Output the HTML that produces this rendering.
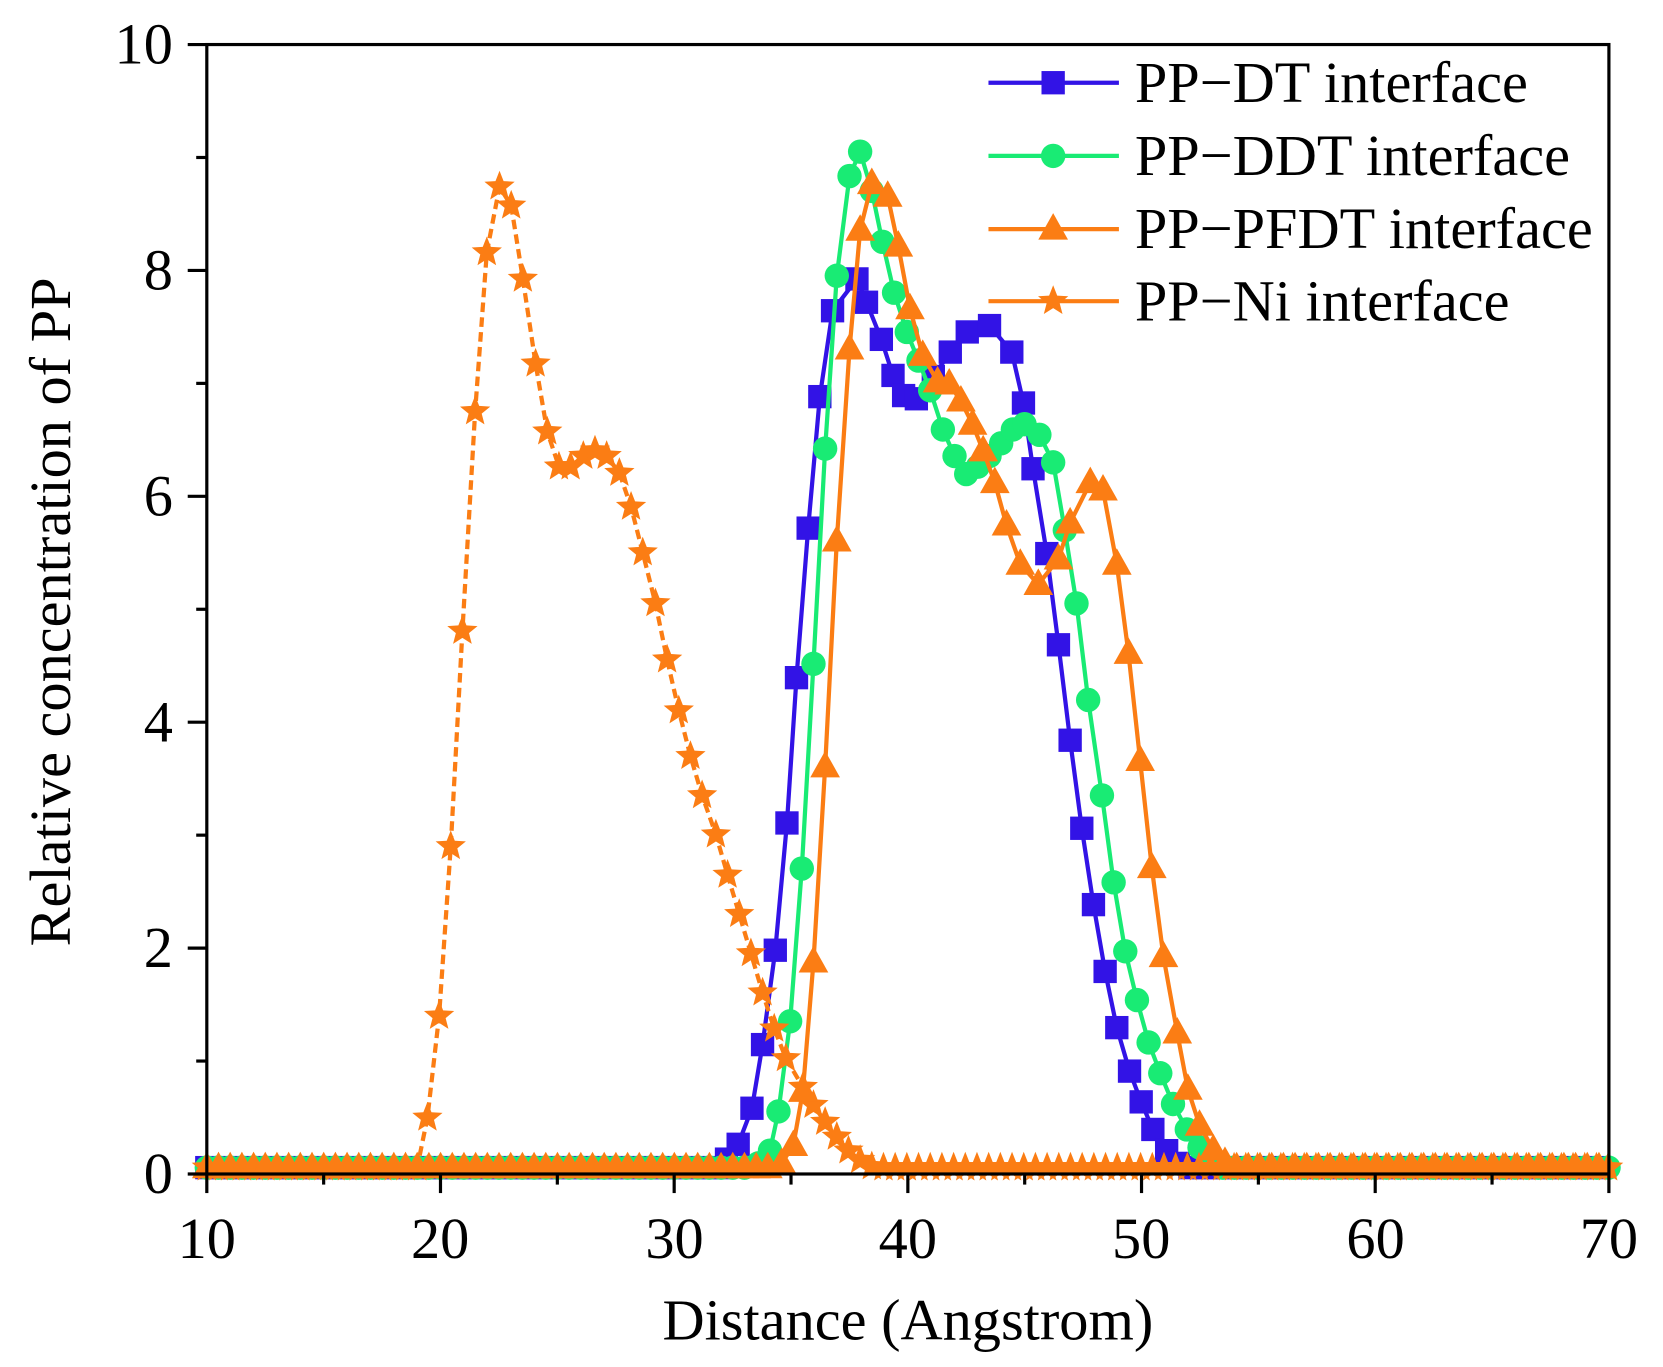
<!DOCTYPE html>
<html><head><meta charset="utf-8"><style>
html,body{margin:0;padding:0;background:#fff;}
svg{display:block;}
text{font-family:"Liberation Serif",serif;fill:#000;}
</style></head><body>
<svg id="s" width="1663" height="1367" viewBox="0 0 1568 1289" preserveAspectRatio="none" xmlns="http://www.w3.org/2000/svg">
<rect width="1568" height="1289" fill="#fff"/>
<g id="series"></g>
<rect x="195" y="42" width="1322" height="1065" fill="none" stroke="#000" stroke-width="3"/>
<g id="ticks" stroke="#000" stroke-width="3"></g>
<g font-size="55">
<text x="195" y="1186" text-anchor="middle">10</text>
<text x="415" y="1186" text-anchor="middle">20</text>
<text x="636" y="1186" text-anchor="middle">30</text>
<text x="856" y="1186" text-anchor="middle">40</text>
<text x="1076" y="1186" text-anchor="middle">50</text>
<text x="1297" y="1186" text-anchor="middle">60</text>
<text x="1517" y="1186" text-anchor="middle">70</text>
<text x="163" y="1125" text-anchor="end">0</text>
<text x="163" y="912" text-anchor="end">2</text>
<text x="163" y="699" text-anchor="end">4</text>
<text x="163" y="486" text-anchor="end">6</text>
<text x="163" y="273" text-anchor="end">8</text>
<text x="163" y="60" text-anchor="end">10</text>
</g>
<text x="856" y="1263" font-size="55" text-anchor="middle">Distance (Angstrom)</text>
<text transform="translate(66,577) rotate(-90)" font-size="55" text-anchor="middle">Relative concentration of PP</text>
<g id="legend"></g>
</svg>
<script>
const NS="http://www.w3.org/2000/svg";
function el(p,t,a){const e=document.createElementNS(NS,t);for(const k in a)e.setAttribute(k,a[k]);p.appendChild(e);return e;}
const S=document.getElementById('series'),T=document.getElementById('ticks'),L=document.getElementById('legend');
for(let v=10;v<=70;v+=5){const x=195+(v-10)*22.033;const maj=v%10==0;el(T,'line',{x1:x,y1:1107,x2:x,y2:maj?1125:1117});}
for(let v=0;v<=10;v++){const y=1107-v*106.5;const maj=v%2==0;el(T,'line',{x1:195,y1:y,x2:maj?177:185,y2:y});}
const base=1101;
const DT=[[685,1093],[696,1079],[709,1045],[719,985],[731,896],[742,776],[751,639],[762,498],[773,374],[785,293],[808,263],[817,285],[831,320],[842,354],[852,373],[864,376],[880,355],[896,332],[912,313],[933,307],[954,332],[965,380],[974,442],[987,522],[998,608],[1009,698],[1020,781],[1031,853],[1042,916],[1053,969],[1065,1010],[1076,1039],[1087,1065],[1100,1085],[1111,1097]];
const DDT=[[715,1097],[726,1085],[734,1048],[745,963],[756,819],[767,626],[778,423],[789,260],[801,166],[811,143],[822,180],[832,228],[843,276],[855,313],[866,340],[877,368],[889,405],[900,430],[911,447],[922,440],[933,430],[944,418],[955,405],[966,400],[980,410],[993,436],[1004,500],[1015,569],[1026,660],[1039,750],[1050,832],[1061,897],[1072,943],[1083,983],[1094,1012],[1106,1041],[1119,1065],[1131,1082],[1142,1095]];
const PF=[[737,1097],[748,1080],[757,1029],[767,907],[778,723],[789,510],[801,329],[811,217],[822,173],[837,185],[847,232],[858,291],[870,335],[884,360],[895,362],[906,378],[917,400],[927,425],[938,455],[949,495],[962,532],[979,551],[998,527],[1009,493],[1028,455],[1040,462],[1053,532],[1064,616],[1075,717],[1086,818],[1097,902],[1110,974],[1120,1027],[1131,1061],[1144,1084],[1155,1096]];
const NI=[[403,1054],[414,958],[425,798],[436,595],[448,388],[459,238],[471,176],[482,194],[493,263],[505,343],[516,407],[527,440],[538,440],[550,430],[561,425],[572,430],[584,446],[595,478],[606,521],[618,569],[629,622],[640,670],[651,713],[662,750],[675,787],[686,825],[697,862],[708,899],[719,936],[730,970],[741,998],[757,1025],[767,1042],[778,1058],[789,1072],[800,1085],[811,1094],[822,1100]];
function fill(pts){const r=[];const a=pts[0][0],b=pts[pts.length-1][0];for(let x=195;x<a-4;x+=11.02)r.push([x,base]);r.push(...pts);for(let x=b+11;x<=1518;x+=11.02)r.push([x,base]);return r;}
function mark(p,type,x,y,c){
 if(type=='sq')el(p,'rect',{x:x-11,y:y-11,width:22,height:22,fill:c});
 else if(type=='ci')el(p,'circle',{cx:x,cy:y,r:11.5,fill:c});
 else if(type=='tr')el(p,'polygon',{points:`${x},${y-15} ${x+14},${y+10} ${x-14},${y+10}`,fill:c});
 else {let s='';for(let i=0;i<10;i++){const r=i%2?6.5:15;const a=-Math.PI/2+i*Math.PI/5;s+=(x+r*Math.cos(a))+','+(y+r*Math.sin(a))+' ';}el(p,'polygon',{points:s,fill:c});}
}
function series(pts,type,c,dash){const p=fill(pts);el(S,'polyline',{points:p.map(q=>q.join(',')).join(' '),fill:'none',stroke:c,'stroke-width':4,'stroke-dasharray':dash||'none'});p.forEach(q=>mark(S,type,q[0],q[1],c));}
series(DT,'sq','#3213e6');
series(DDT,'ci','#19eb74');
series(NI,'st','#fb7d14','9,5');
series(PF,'tr','#fb7d14');
const lg=[['sq','#3213e6','PP\u2212DT interface',78],['ci','#19eb74','PP\u2212DDT interface',147],['tr','#fb7d14','PP\u2212PFDT interface',216],['st','#fb7d14','PP\u2212Ni interface',284]];
lg.forEach(l=>{el(L,'line',{x1:932,y1:l[3],x2:1055,y2:l[3],stroke:l[1],'stroke-width':4});mark(L,l[0],993,l[3],l[1]);const t=el(L,'text',{x:1070,y:l[3]+18,'font-size':55});t.textContent=l[2];});
</script>
</body></html>
